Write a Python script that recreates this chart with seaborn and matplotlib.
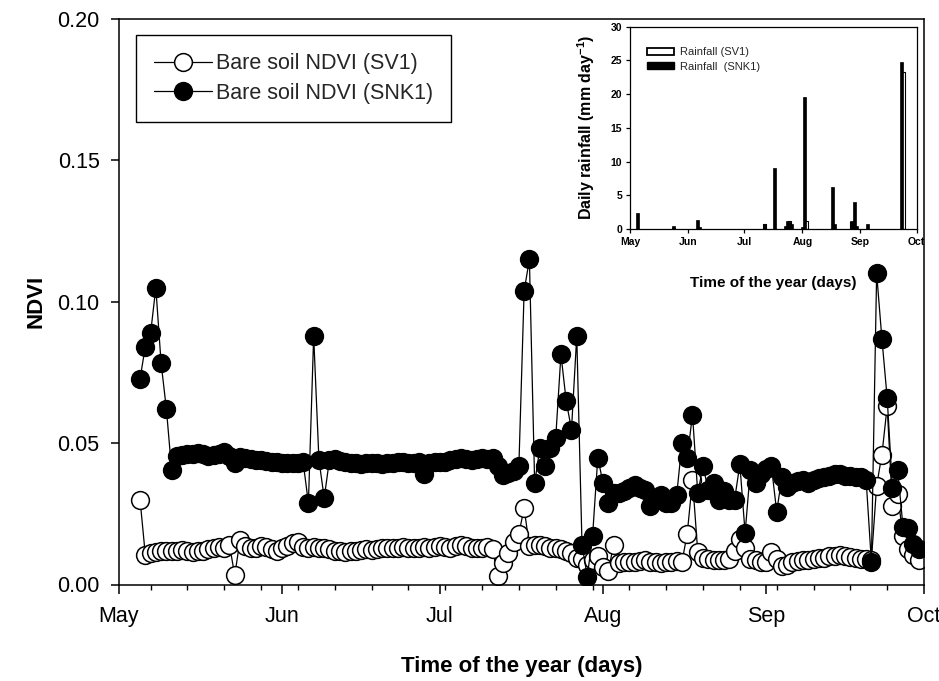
import numpy as np
import pandas as pd
import matplotlib
matplotlib.use("Agg")
import matplotlib.pyplot as plt
import seaborn as sns
from matplotlib.lines import Line2D
from matplotlib.patches import Patch
from matplotlib.ticker import FixedLocator

sns.set_theme(style="ticks")
plt.rcParams['font.family'] = ['Liberation Sans', 'DejaVu Sans']
plt.rcParams['mathtext.fontset'] = 'custom'
plt.rcParams['mathtext.rm'] = 'Liberation Sans'
plt.rcParams['mathtext.bf'] = 'Liberation Sans:bold'

# ---- axis ticks (days after 1 May) ----
month_ticks = [0, 31, 61, 92, 123, 153]
month_labels = ["May", "Jun", "Jul", "Aug", "Sep", "Oct"]
week_ticks = [6, 13, 20, 27, 34, 41, 48, 55, 62, 69, 76, 83, 90, 97, 104,
              111, 118, 125, 132, 139, 146]
ndvi_ticks = [0.00, 0.05, 0.10, 0.15, 0.20]
rain_ticks = [0, 5, 10, 15, 20, 25, 30]

# ---- NDVI data: daily from day 4 (5 May) to day 152 (30 Sep) ----
ndvi_days = list(range(4, 153))
ndvi_sv1 = [
    0.030, 0.0105, 0.011, 0.0115, 0.0118, 0.012, 0.0118, 0.012, 0.0122, 0.0118,
    0.0115, 0.0118, 0.012, 0.0125, 0.013, 0.0132, 0.0128, 0.014, 0.0032, 0.0158,
    0.0135, 0.0128, 0.013, 0.0135, 0.0132, 0.0125, 0.012, 0.0128, 0.0135, 0.0148,
    0.015, 0.0132, 0.013, 0.0132, 0.013, 0.0128, 0.0125, 0.012, 0.0118, 0.0115,
    0.0118, 0.012, 0.0122, 0.0125, 0.0122, 0.0125, 0.0128, 0.013, 0.0128, 0.013,
    0.0132, 0.013, 0.0128, 0.013, 0.0132, 0.013, 0.0132, 0.0135, 0.0132, 0.013,
    0.0135, 0.0138, 0.0135, 0.013, 0.0128, 0.013, 0.0132, 0.0125, 0.003, 0.0075,
    0.011, 0.015, 0.018, 0.027, 0.0135, 0.014, 0.0138, 0.0135, 0.013, 0.0128,
    0.0125, 0.012, 0.011, 0.0095, 0.009, 0.007, 0.0085, 0.010, 0.0062, 0.0048,
    0.014, 0.0075, 0.008, 0.0078, 0.008, 0.0082, 0.0085, 0.008, 0.0078, 0.0075,
    0.0078, 0.008, 0.0082, 0.008, 0.018, 0.037, 0.0115, 0.0095, 0.009, 0.0088,
    0.0085, 0.0088, 0.009, 0.012, 0.016, 0.013, 0.009, 0.0085, 0.008, 0.0078,
    0.0115, 0.009, 0.0065, 0.007, 0.008, 0.0082, 0.0085, 0.0088, 0.009, 0.0092,
    0.0095, 0.010, 0.0102, 0.0105, 0.010, 0.0098, 0.0095, 0.009, 0.009, 0.0085,
    0.035, 0.0459, 0.063, 0.0276, 0.032, 0.017, 0.0125, 0.0105, 0.0087,
]
ndvi_snk1 = [
    0.0728, 0.0841, 0.0888, 0.105, 0.0783, 0.0622, 0.0405, 0.0455, 0.0458, 0.046,
    0.0462, 0.0465, 0.046, 0.0455, 0.0458, 0.0462, 0.047, 0.0455, 0.043, 0.045,
    0.0448, 0.0445, 0.0442, 0.044, 0.0438, 0.0435, 0.0432, 0.043, 0.0428, 0.043,
    0.043, 0.0432, 0.0288, 0.0879, 0.0441, 0.0306, 0.0441, 0.0445, 0.0438, 0.0432,
    0.043, 0.0428, 0.0425, 0.0428, 0.043, 0.0428, 0.0425, 0.0428, 0.043, 0.0432,
    0.0435, 0.043, 0.0428, 0.0432, 0.039, 0.043, 0.0435, 0.0432, 0.0435, 0.044,
    0.0445, 0.0448, 0.0445, 0.044, 0.0445, 0.0448, 0.0445, 0.0448, 0.0418, 0.0388,
    0.0394, 0.040, 0.0418, 0.1038, 0.115, 0.0359, 0.0483, 0.0418, 0.0483, 0.0518,
    0.0814, 0.0648, 0.0548, 0.0879, 0.014, 0.0028, 0.017, 0.0448, 0.0359, 0.0288,
    0.0323, 0.0323, 0.0329, 0.0341, 0.0353, 0.034, 0.0335, 0.0276, 0.030, 0.0317,
    0.0288, 0.0288, 0.0317, 0.050, 0.0448, 0.0601, 0.0323, 0.0418, 0.0335, 0.0359,
    0.030, 0.0329, 0.030, 0.030, 0.0425, 0.0182, 0.0406, 0.036, 0.039, 0.041,
    0.0418, 0.0258, 0.038, 0.0346, 0.036, 0.0365, 0.037, 0.036, 0.037, 0.0375,
    0.038, 0.0385, 0.039, 0.039, 0.0385, 0.0385, 0.038, 0.038, 0.037, 0.008,
    0.110, 0.0869, 0.066, 0.034, 0.0405, 0.0205, 0.020, 0.0145, 0.0125,
]

# ---- Rainfall data (inset) ----
rain_days_sv1 = [23, 72, 85, 94, 118, 146]
rain_sv1 = [0.2, 0.7, 1.2, 1.2, 1.0, 23.3]
rain_days_snk1 = [4, 23, 36, 37, 72, 77, 83, 84, 85, 86, 92, 93,
                  108, 109, 118, 120, 121, 127, 145]
rain_snk1 = [2.4, 0.4, 1.4, 0.3, 0.7, 9.0, 0.5, 1.2, 1.1, 0.8, 0.3, 19.6,
             6.2, 0.8, 1.2, 4.0, 0.4, 0.8, 24.8]

df = pd.DataFrame({"day": ndvi_days, "SV1": ndvi_sv1, "SNK1": ndvi_snk1})

W, H = 939, 681
fig = plt.figure(figsize=(W / 100, H / 100), dpi=100)
fig.patch.set_facecolor("white")
ax = fig.add_axes([119 / W, 1 - 584.5 / H, 805 / W, 565.5 / H])
ax.set_facecolor("white")

ms = 12.8
sns.lineplot(data=df, x="day", y="SV1", ax=ax, color="black", lw=0.9,
             marker="o", markersize=ms, markerfacecolor="white",
             markeredgecolor="black", markeredgewidth=1.1, zorder=2)
sns.lineplot(data=df, x="day", y="SNK1", ax=ax, color="black", lw=0.9,
             marker="o", markersize=ms, markerfacecolor="black",
             markeredgecolor="black", markeredgewidth=1.1, zorder=3)

ax.set_xlim(0, 153)
ax.set_ylim(0, 0.20)
ax.set_xticks(month_ticks)
ax.set_xticklabels(month_labels)
ax.xaxis.set_minor_locator(FixedLocator(week_ticks))
ax.set_yticks(ndvi_ticks)
ax.set_yticklabels([f"{v:.2f}" for v in ndvi_ticks])
ax.tick_params(axis="x", which="major", direction="out", length=6.5, width=1.1,
               labelsize=15.5, pad=9, color="black", labelcolor="black")
ax.tick_params(axis="x", which="minor", direction="out", length=3.6, width=1.0,
               color="black")
ax.tick_params(axis="y", which="major", direction="out", length=6, width=1.1,
               labelsize=15.5, pad=8, color="black", labelcolor="black")
for s in ax.spines.values():
    s.set_visible(True)
    s.set_linewidth(1.1)
    s.set_color("black")
ax.set_xlabel("Time of the year (days)", fontsize=16, fontweight="bold",
              labelpad=21, color="black")
ax.set_ylabel("NDVI", fontsize=16, fontweight="bold", labelpad=8, color="black")

handles = [
    Line2D([], [], color="black", lw=0.9, marker="o", markersize=ms,
           markerfacecolor="white", markeredgecolor="black", markeredgewidth=1.1),
    Line2D([], [], color="black", lw=0.9, marker="o", markersize=ms,
           markerfacecolor="black", markeredgecolor="black", markeredgewidth=1.1),
]
leg = ax.legend(handles, ["Bare soil NDVI (SV1)", "Bare soil NDVI (SNK1)"],
                loc="upper left", bbox_to_anchor=(0.021, 0.972), borderaxespad=0,
                frameon=True, fancybox=False, edgecolor="black", framealpha=1,
                fontsize=15.5, handlelength=2.7, handletextpad=0.15,
                borderpad=0.85, labelspacing=0.4)
leg.get_frame().set_linewidth(1.0)

# ---- Inset: daily rainfall ----
ins = fig.add_axes([630 / W, 1 - 229 / H, 286.7 / W, 202.3 / H])
ins.set_facecolor("white")
ins.bar(rain_days_sv1, rain_sv1, width=1.6, color="white", edgecolor="black",
        linewidth=0.8, zorder=2)
ins.bar(rain_days_snk1, rain_snk1, width=1.6, color="black", edgecolor="black",
        linewidth=0.5, zorder=3)
ins.set_xlim(0, 153)
ins.set_ylim(0, 30)
ins.set_xticks(month_ticks)
ins.set_xticklabels(month_labels, fontweight="bold")
ins.set_yticks(rain_ticks)
ins.set_yticklabels([str(v) for v in rain_ticks], fontweight="bold")
ins.tick_params(axis="both", direction="out", length=3, width=0.9,
                labelsize=7.5, pad=2.5, color="black", labelcolor="black")
for s in ins.spines.values():
    s.set_visible(True)
    s.set_linewidth(0.9)
    s.set_color("black")
ins.set_xlabel("Time of the year (days)", fontsize=11, fontweight="bold",
               labelpad=21, color="black")
ins.set_ylabel(r"Daily rainfall (mm day$^{\mathbf{-1}}$)", fontsize=11.5,
               fontweight="bold", labelpad=10, color="black")
rh = [Patch(facecolor="white", edgecolor="black", linewidth=1.3),
      Patch(facecolor="black", edgecolor="black")]
ins.legend(rh, ["Rainfall (SV1)", "Rainfall  (SNK1)"], loc="upper left",
           bbox_to_anchor=(0.045, 0.92), borderaxespad=0, frameon=False,
           fontsize=8, handlelength=2.4, handleheight=0.55, handletextpad=0.5,
           labelspacing=0.4)

fig.savefig("out.png", dpi=100, facecolor="white")
